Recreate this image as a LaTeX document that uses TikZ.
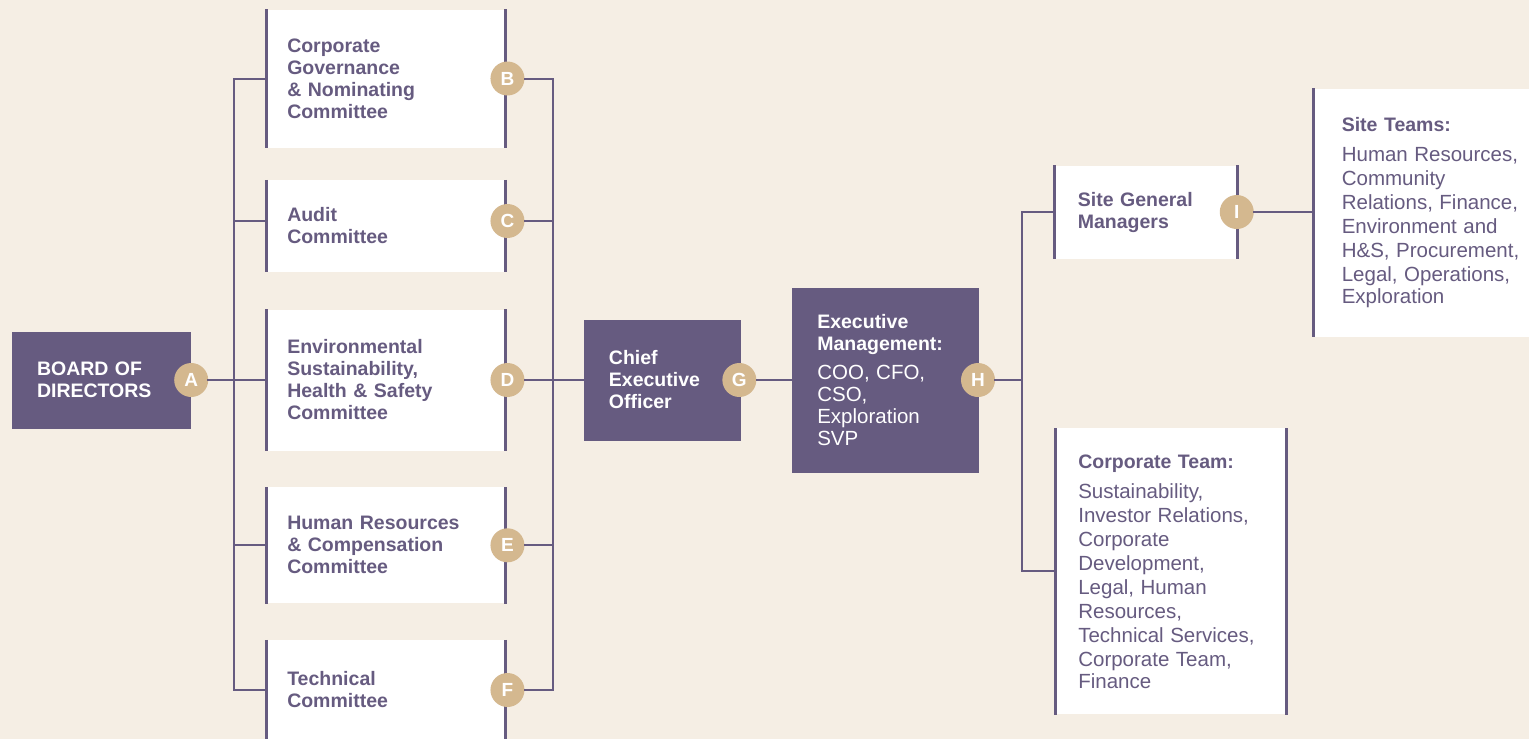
\documentclass[tikz,border=0pt]{standalone}
\usepackage{fontspec}
\setmainfont{Liberation Sans}
\definecolor{plum}{RGB}{102, 91, 128}
\definecolor{sand}{RGB}{212, 184, 143}
\definecolor{cream}{RGB}{245, 238, 228}
\newcommand{\hdfont}{\fontsize{19.5}{22}\selectfont\bfseries}
\newcommand{\txfont}{\fontsize{20.5}{24}\selectfont\mdseries}
\newcommand{\exfont}{\fontsize{20.5}{22}\selectfont\mdseries}
\newcommand{\tagfont}{\fontsize{19}{19}\selectfont\bfseries}
\tikzset{
    unit/.style={rectangle, inner ysep=0pt, align=left, font=\hdfont},
    darkunit/.style={unit, fill=plum, text=white, inner xsep=25pt},
    lightunit/.style={unit, fill=white, text=plum},
    committee/.style={lightunit, inner xsep=22.5pt, text width=197.5pt},
    badge/.style={circle, fill=sand, text=white, minimum size=34pt, inner sep=0pt, font=\tagfont},
    wire/.style={draw=plum, line width=2pt, line cap=rect},
    rim/.style={draw=plum, line width=3pt}
}

\begin{document}
\begin{tikzpicture}[x=1pt, y=-1pt]
        \useasboundingbox (0,0) rectangle (1529,739);
        \clip (0,0) rectangle (1529,739);
        \fill[cream] (0,0) rectangle (1529,739);

        \node[darkunit, text width=129pt, minimum height=97pt] (board) at (101.5,380) {BOARD OF\\DIRECTORS};

        \node[committee, minimum height=138pt] (cB) at (386,78.5) {Corporate\\Governance\\\& Nominating\\Committee};
        \node[committee, minimum height=92pt] (cC) at (386,226) {Audit\\Committee};
        \node[committee, minimum height=141pt] (cD) at (386,380) {Environmental\\Sustainability,\\Health \& Safety\\Committee};
        \node[committee, minimum height=116pt] (cE) at (386,545.3) {Human Resources\\\& Compensation\\Committee};
        \node[committee, minimum height=100pt] (cF) at (386,690) {Technical\\Committee};

        \node[darkunit, text width=106.7pt, minimum height=121pt] (ceo) at (662.3,380) {Chief\\Executive\\Officer};
        \node[darkunit, text width=137pt, minimum height=185pt] (exec) at (885.8,380) {Executive\\Management:\par\vspace{7pt}\exfont COO, CFO,\\CSO,\\Exploration\\SVP};

        \node[lightunit, inner xsep=24.5pt, text width=136.7pt, minimum height=93pt] (sgm) at (1146.2,212) {Site General\\Managers};
        \node[lightunit, inner xsep=29.5pt, text width=185pt, minimum height=248pt] (site) at (1434.3,212.5) {Site Teams:\par\vspace{6pt}\txfont Human Resources,\\Community\\Relations, Finance,\\Environment and\\H\&S, Procurement,\\Legal, Operations,\\Exploration};
        \node[lightunit, inner xsep=24pt, text width=185.4pt, minimum height=286pt] (corp) at (1171,571.3) {Corporate Team:\par\vspace{6pt}\txfont Sustainability,\\Investor Relations,\\Corporate\\Development,\\Legal, Human\\Resources,\\Technical Services,\\Corporate Team,\\Finance};

        \foreach \n in {cB,cC,cD,cE,cF,sgm,corp}
            \draw[rim] ([xshift=1.5pt]\n.north west) -- ([xshift=1.5pt]\n.south west)
                       ([xshift=-1.5pt]\n.north east) -- ([xshift=-1.5pt]\n.south east);
        \draw[rim] ([xshift=1.5pt]site.north west) -- ([xshift=1.5pt]site.south west);

        \node[badge] (bA) at (board.east) {A};
        \node[badge] (bB) at (cB.east) {B};
        \node[badge] (bC) at ([yshift=5pt]cC.east) {C};
        \node[badge] (bD) at (cD.east) {D};
        \node[badge] (bE) at (cE.east) {E};
        \node[badge] (bF) at (cF.east) {F};
        \node[badge] (bG) at ([xshift=-1.5pt]ceo.east) {G};
        \node[badge] (bH) at ([xshift=-1.5pt]exec.east) {H};
        \node[badge] (bI) at ([xshift=-2.5pt]sgm.east) {I};

        \coordinate (lbus) at (233.5,0);
        \coordinate (rbus) at (553,0);
        \coordinate (hbus) at (1022,0);

        \foreach \n in {B,C,D,E,F} {
            \draw[wire] (c\n.west |- b\n) -- (lbus |- b\n);
            \draw[wire] (b\n.east) -- (rbus |- b\n);
        }
        \draw[wire] (lbus |- bB) -- (lbus |- bF);
        \draw[wire] (rbus |- bB) -- (rbus |- bF);
        \draw[wire] (bA.east) -- (cD.west |- bA);
        \draw[wire] (bD.east) -- (ceo.west |- bD);
        \draw[wire] (bG.east) -- (exec.west |- bG);
        \draw[wire] (bH.east) -- (hbus |- bH);
        \draw[wire] (sgm.west) -| (hbus |- corp.west) -- (corp.west);
        \draw[wire] (bI.east) -- (site.west |- bI);
    \end{tikzpicture}
\end{document}
